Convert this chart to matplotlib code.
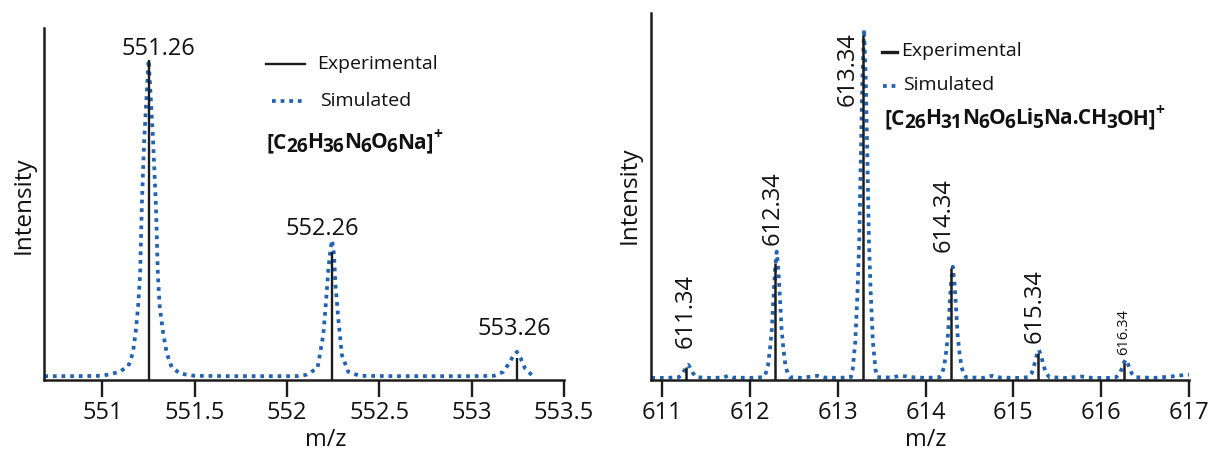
import matplotlib
matplotlib.use('Agg')
import matplotlib.pyplot as plt
from matplotlib.transforms import offset_copy
from matplotlib.lines import Line2D

plt.rcParams['font.family'] = ['Open Sans', 'DejaVu Sans']

W, H = 1210, 459
fig = plt.figure(figsize=(W / 100, H / 100), dpi=100)


def fx(x):
    return x / W


def fy(y):
    return 1 - y / H


BLUE = '#2163b3'
DARK = '#1c1c1c'
TXT = '#111111'
DOT = (0, (1, 1.3))

# ---------------- data: left panel ----------------
left_exp_mz = [551.25, 552.245, 553.248]
left_exp_int = [100.0, 40.0, 7.0]
left_peak_labels = ['551.26', '552.26', '553.26']

left_sim_mz = [550.685, 550.85, 551.00, 551.09, 551.14, 551.165, 551.18, 551.193,
               551.204, 551.213, 551.226, 551.242, 551.25, 551.258, 551.274, 551.29,
               551.30, 551.31, 551.328, 551.348, 551.375, 551.42, 551.50, 551.70,
               551.90, 552.05, 552.103, 552.165, 552.196, 552.211, 552.224, 552.236,
               552.244, 552.254, 552.262, 552.277, 552.297, 552.331, 552.393, 552.60,
               552.80, 553.00, 553.12, 553.17, 553.20, 553.225, 553.245, 553.265,
               553.29, 553.33]
left_sim_int = [1.2, 1.2, 1.3, 2.5, 4.3, 8.5, 15, 23,
                33, 54, 75, 92, 100, 92, 75, 54,
                33, 23, 15, 8.4, 4.0, 2.0, 1.3, 1.2,
                1.2, 1.2, 1.6, 3.7, 14.1, 24.5, 34.9, 41.2,
                43.7, 39.2, 29.8, 19.4, 7.8, 2.6, 1.3, 1.2,
                1.2, 1.2, 1.3, 2.5, 5.0, 7.5, 8.8, 6.8,
                3.5, 1.3]

left_ticks = [551, 551.5, 552, 552.5, 553, 553.5]
left_ticklabels = ['551', '551.5', '552', '552.5', '553', '553.5']
left_formula = [('[C', 0), ('26', 1), ('H', 0), ('36', 1), ('N', 0), ('6', 1),
                ('O', 0), ('6', 1), ('Na]', 0), ('+', 2)]

# ---------------- data: right panel ----------------
right_exp_mz = [611.275, 612.29, 613.29, 614.295, 615.275, 616.255]
right_exp_int = [3.6, 33.3, 98.4, 31.8, 7.8, 4.8]
right_peak_labels = ['611.34', '612.34', '613.34', '614.34', '615.34', '616.34']

right_sim_mz = [610.877, 611.05, 611.19, 611.23, 611.26, 611.28, 611.30, 611.32, 611.35, 611.39,
                611.55, 611.70, 611.75, 611.80, 612.00,
                612.155, 612.175, 612.205, 612.23, 612.25, 612.265, 612.285, 612.305, 612.325,
                612.345, 612.36, 612.38, 612.405, 612.435, 612.455,
                612.60, 612.70, 612.77, 612.85, 613.00,
                613.15, 613.17, 613.20, 613.225, 613.245, 613.26, 613.28, 613.30, 613.32,
                613.34, 613.355, 613.375, 613.40, 613.43, 613.45,
                613.60, 613.72, 613.85, 614.00,
                614.16, 614.18, 614.21, 614.235, 614.255, 614.27, 614.29, 614.31, 614.33,
                614.35, 614.365, 614.385, 614.41, 614.44, 614.46,
                614.65, 614.76, 614.85, 615.05,
                615.17, 615.21, 615.24, 615.265, 615.29, 615.315, 615.34, 615.37, 615.41,
                615.60, 615.77, 615.90, 616.10,
                616.17, 616.21, 616.24, 616.26, 616.28, 616.30, 616.32, 616.35, 616.39,
                616.60, 616.80, 616.90, 617.00]
right_sim_int = [0.6, 0.6, 0.8, 1.6, 3.0, 4.0, 4.3, 3.5, 2.0, 0.8,
                 0.6, 0.7, 1.2, 0.7, 0.6,
                 0.8, 1.5, 4.0, 9.2, 14.6, 22, 31, 36.6, 31,
                 22, 14.6, 9.2, 4.0, 1.5, 0.8,
                 0.6, 1.0, 1.2, 0.7, 0.6,
                 0.8, 3, 11, 25, 40, 60, 85, 100, 85,
                 60, 40, 25, 11, 3, 0.8,
                 0.7, 1.2, 0.8, 0.6,
                 0.8, 1.4, 3.6, 8.1, 12.9, 19.4, 27.5, 32.3, 27.5,
                 19.4, 12.9, 8.1, 3.6, 1.4, 0.8,
                 0.6, 1.2, 0.7, 0.6,
                 0.8, 2.0, 4.5, 7.0, 8.6, 7.0, 4.5, 2.0, 0.8,
                 0.6, 1.0, 0.6, 0.6,
                 0.8, 1.8, 3.5, 5.0, 5.8, 5.0, 3.5, 1.8, 0.8,
                 0.6, 1.0, 1.3, 1.5]

right_ticks = [611, 612, 613, 614, 615, 616, 617]
right_ticklabels = ['611', '612', '613', '614', '615', '616', '617']
right_formula = [('[C', 0), ('26', 1), ('H', 0), ('31', 1), ('N', 0), ('6', 1),
                 ('O', 0), ('6', 1), ('Li', 0), ('5', 1), ('Na.CH', 0), ('3', 1),
                 ('OH]', 0), ('+', 2)]

assert len(left_sim_mz) == len(left_sim_int)
assert len(right_sim_mz) == len(right_sim_int)

# ---------------- layout ----------------
left_label_pos = [(551.302, 101.6), (552.192, 45.4), (553.233, 14.0)]
right_label_pos = [(611.265, 9.0, 17), (612.258, 38.5, 17), (613.11, 78.1, 17),
                   (614.21, 36.6, 17), (615.245, 10.5, 17), (616.25, 7.1, 10.5)]

axL = fig.add_axes([fx(44.3), fy(380), fx(564) - fx(44.3), (380 - 28) / H])
axR = fig.add_axes([fx(651.3), fy(380), fx(1189) - fx(651.3), (380 - 13) / H])


def style(ax, xlim, ylim, ticks, labels):
    ax.set_xlim(*xlim)
    ax.set_ylim(*ylim)
    for s in ('top', 'right'):
        ax.spines[s].set_visible(False)
    for s in ('left', 'bottom'):
        ax.spines[s].set_linewidth(1.8)
        ax.spines[s].set_color(DARK)
    ax.set_yticks([])
    ax.set_xticks(ticks)
    ax.set_xticklabels(labels)
    ax.tick_params(axis='x', direction='out', length=12.5, width=1.7, color=DARK,
                   labelsize=17, pad=2.5, labelcolor=TXT)
    ax.patch.set_alpha(0)


style(axL, (550.685, 553.5), (0, 110), left_ticks, left_ticklabels)
style(axR, (610.877, 617.0), (0, 104.6), right_ticks, right_ticklabels)

axL.plot(left_sim_mz, left_sim_int, color=BLUE, lw=2.7, ls=DOT, zorder=2)
axL.vlines(left_exp_mz, 0, left_exp_int, color=DARK, lw=1.7, zorder=3)
for (x, y), s in zip(left_label_pos, left_peak_labels):
    axL.text(x, y, s, ha='center', va='baseline', fontsize=17, color=TXT)

axR.plot(right_sim_mz, right_sim_int, color=BLUE, lw=2.7, ls=DOT, zorder=2)
axR.vlines(right_exp_mz, 0, right_exp_int, color=DARK, lw=1.8, zorder=3)
for (x, y, fs), s in zip(right_label_pos, right_peak_labels):
    axR.text(x, y, s, ha='center', va='bottom', rotation=90, fontsize=fs, color=TXT)

# axis titles
fig.text(fx(24), fy(205), 'Intensity', rotation=90, ha='center', va='center',
         fontsize=17.5, color=TXT)
fig.text(fx(630), fy(195), 'Intensity', rotation=90, ha='center', va='center',
         fontsize=17.5, color=TXT)
fig.text(fx(326), fy(440), 'm/z', ha='center', va='center', fontsize=17, color=TXT)
fig.text(fx(926), fy(440), 'm/z', ha='center', va='center', fontsize=17, color=TXT)

# legends
fig.add_artist(Line2D([fx(266), fx(305)], [fy(64), fy(64)], color=DARK, lw=1.7))
fig.text(fx(317), fy(64), 'Experimental', ha='left', va='center', fontsize=14, color=TXT)
fig.add_artist(Line2D([fx(272), fx(305)], [fy(100.7), fy(100.7)], color=BLUE, lw=2.7, ls=DOT))
fig.text(fx(320), fy(101), 'Simulated', ha='left', va='center', fontsize=14, color=TXT)

fig.add_artist(Line2D([fx(882), fx(897)], [fy(52), fy(52)], color=DARK, lw=2.4))
fig.text(fx(901.5), fy(51), 'Experimental', ha='left', va='center', fontsize=14, color=TXT)
fig.add_artist(Line2D([fx(883), fx(899)], [fy(86), fy(86)], color=BLUE, lw=2.7, ls=DOT))
fig.text(fx(903), fy(85), 'Simulated', ha='left', va='center', fontsize=14, color=TXT)


def rich(x, y, segs, size=14.0):
    renderer = fig.canvas.get_renderer()
    xoff = 0.0
    for s, kind in segs:
        if kind == 0:
            fs, dy = size, 0.0
        elif kind == 1:
            fs, dy = size * 0.92, -3.0
        else:
            fs, dy = size * 0.75, 6.5
        tr = offset_copy(fig.transFigure, fig=fig, x=xoff, y=dy, units='points')
        t = fig.text(x, y, s, transform=tr, fontsize=fs, fontweight='bold',
                     ha='left', va='baseline', color=TXT)
        bb = t.get_window_extent(renderer=renderer)
        xoff += bb.width * 72.0 / fig.dpi - 0.4


rich(fx(266), fy(148), left_formula, size=15.0)
rich(fx(884), fy(124), right_formula, size=15.0)

fig.savefig('out.png', dpi=100)
